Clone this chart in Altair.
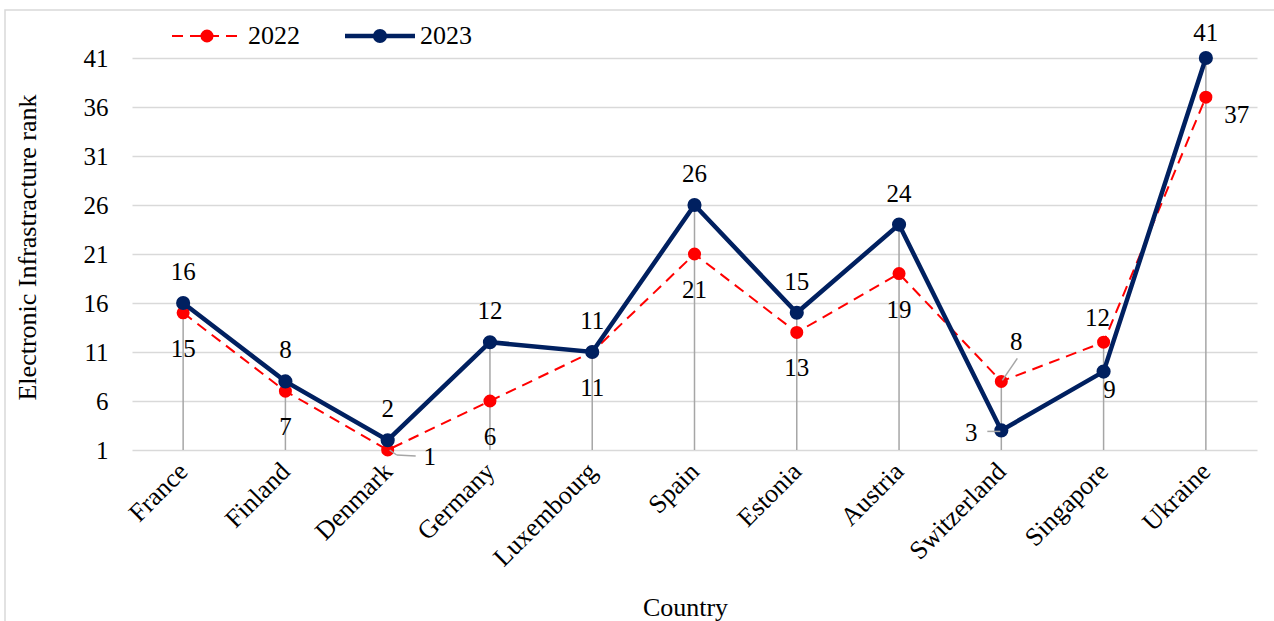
import altair as alt
import pandas as pd

# Electronic infrastructure rank by country, two survey years
countries = ["France", "Finland", "Denmark", "Germany", "Luxembourg", "Spain",
             "Estonia", "Austria", "Switzerland", "Singapore", "Ukraine"]
rank_2022 = [15, 7, 1, 6, 11, 21, 13, 19, 8, 12, 37]
rank_2023 = [16, 8, 2, 12, 11, 26, 15, 24, 3, 9, 41]
series = ["2022", "2023"]
y_ticks = [1, 6, 11, 16, 21, 26, 31, 36, 41]

RED = "#ff0000"
NAVY = "#002060"
GRID = "#d9d9d9"
DROP = "#a6a6a6"
FONT = "Liberation Serif"
TXT = 26
NUM = 25
DASH = [11, 7]
SIZE22 = 170
SIZE23 = 200

# label placement (pixels): 2023 above the marker, 2022 below, a few moved aside
label_shift = {
    ("2022", "Denmark"): (42, 7),
    ("2023", "Switzerland"): (-30, 3),
    ("2022", "Switzerland"): (15, -39),
    ("2022", "Singapore"): (-6, -24),
    ("2023", "Singapore"): (6, 18),
    ("2023", "Ukraine"): (0, -25),
    ("2022", "Ukraine"): (31, 18),
}
default_shift = {"2022": (0, 36), "2023": (0, -31)}

rows = []
for s, vals in zip(series, [rank_2022, rank_2023]):
    for c, v in zip(countries, vals):
        dx, dy = label_shift.get((s, c), default_shift[s])
        rows.append({"country": c, "series": s, "value": v,
                     "shift": f"{dx},{dy}"})
df = pd.DataFrame(rows)

drop_df = pd.DataFrame({
    "country": countries,
    "top": [max(a, b) for a, b in zip(rank_2022, rank_2023)],
})

X = alt.X("country:N", sort=countries)

x_enc = alt.X("country:N", sort=countries,
              scale=alt.Scale(type="point", padding=0.5),
              axis=alt.Axis(title="Country", labelAngle=-45, labelAlign="right",
                            labelBaseline="middle", labelPadding=17,
                            domain=False, ticks=False, grid=False,
                            labelFont=FONT, labelFontSize=TXT, labelColor="#000",
                            titleFont=FONT, titleFontSize=TXT, titleFontWeight="normal",
                            titleColor="#000", titleX=553, titleY=157,
                            titleBaseline="middle"))
y_scale = alt.Scale(domain=[1, 46], nice=False, zero=False)
y_enc = alt.Y("value:Q", scale=y_scale,
              axis=alt.Axis(title="Electronic Infrastracture rank", values=y_ticks,
                            domain=False, ticks=False, grid=True,
                            gridColor=GRID, gridWidth=1.5, labelPadding=24,
                            labelFont=FONT, labelFontSize=NUM, labelColor="#000",
                            titleFont=FONT, titleFontSize=TXT, titleFontWeight="normal",
                            titleColor="#000", titleX=-105, titleY=238,
                            titleBaseline="middle"))

base = alt.Chart(df)

line22 = base.transform_filter(alt.datum.series == "2022").mark_line(
    color=RED, strokeWidth=2, strokeDash=DASH).encode(x=x_enc, y=y_enc)
pts22 = base.transform_filter(alt.datum.series == "2022").mark_point(
    filled=True, shape="circle", size=SIZE22, color=RED, opacity=1).encode(
    x=X, y="value:Q")
line23 = base.transform_filter(alt.datum.series == "2023").mark_line(
    color=NAVY, strokeWidth=4.5).encode(x=X, y="value:Q")
pts23 = base.transform_filter(alt.datum.series == "2023").mark_point(
    filled=True, shape="circle", size=SIZE23, color=NAVY, opacity=1).encode(
    x=X, y="value:Q")

drops = alt.Chart(drop_df).mark_rule(color=DROP, strokeWidth=1.5).encode(
    x=X, y="top:Q", y2=alt.datum(1))

# one text layer per placement offset
label_layers = []
for key in sorted(set(df["shift"])):
    dx, dy = (int(v) for v in key.split(","))
    label_layers.append(
        base.transform_filter(alt.datum["shift"] == key).mark_text(
            font=FONT, fontSize=NUM, color="#000", align="center",
            baseline="middle", dx=dx, dy=dy).encode(
            x=X, y="value:Q", text="value:Q"))


def leader(s, c, x0, y0, x1, y1):
    return base.transform_filter(
        (alt.datum.series == s) & (alt.datum.country == c)
    ).mark_rule(color=DROP, strokeWidth=1.5, xOffset=x0, yOffset=y0,
                x2Offset=x1, y2Offset=y1).encode(
        x=X, x2="country:N", y="value:Q", y2="value:Q")


leaders = [
    leader("2022", "Denmark", 2, 0, 9, 5),
    leader("2022", "Denmark", 9, 5, 28, 6),
    leader("2023", "Switzerland", -14, 1, -1, 1),
    leader("2022", "Switzerland", 1, -1, 16, -23),
]

# legend drawn at the top of the plot
leg_df = pd.DataFrame({"series": series})
leg = alt.Chart(leg_df)
leg_red_line = leg.transform_filter(alt.datum.series == "2022").mark_rule(
    color=RED, strokeWidth=2, strokeDash=DASH).encode(
    x=alt.value(40), x2=alt.value(110), y=alt.value(27))
leg_red_pt = leg.transform_filter(alt.datum.series == "2022").mark_point(
    filled=True, shape="circle", size=SIZE22, color=RED, opacity=1).encode(
    x=alt.value(75), y=alt.value(27))
leg_navy_line = leg.transform_filter(alt.datum.series == "2023").mark_rule(
    color=NAVY, strokeWidth=4.5).encode(
    x=alt.value(213), x2=alt.value(283), y=alt.value(27))
leg_navy_pt = leg.transform_filter(alt.datum.series == "2023").mark_point(
    filled=True, shape="circle", size=SIZE23, color=NAVY, opacity=1).encode(
    x=alt.value(248), y=alt.value(27))
leg_text22 = leg.transform_filter(alt.datum.series == "2022").mark_text(
    font=FONT, fontSize=TXT, color="#000", align="left", baseline="middle").encode(
    x=alt.value(116), y=alt.value(27), text="series:N")
leg_text23 = leg.transform_filter(alt.datum.series == "2023").mark_text(
    font=FONT, fontSize=TXT, color="#000", align="left", baseline="middle").encode(
    x=alt.value(288), y=alt.value(27), text="series:N")

# outer frame of the chart area
frame = leg.transform_filter(alt.datum.series == "2022").mark_rect(
    fill=None, stroke=GRID, strokeWidth=1.5).encode(
    x=alt.value(-127), x2=alt.value(1160), y=alt.value(1), y2=alt.value(700))

chart = alt.layer(
    frame, line22, drops, pts22, line23, pts23, *leaders, *label_layers,
    leg_red_line, leg_red_pt, leg_navy_line, leg_navy_pt, leg_text22, leg_text23,
).properties(
    width=1125, height=441,
    autosize=alt.AutoSizeParams(type="none"),
    padding={"left": 132, "top": 9, "right": 17, "bottom": 171},
    background="white",
).configure_view(stroke=None)

chart.save("out.html", embed_options={"renderer": "svg", "actions": False})
